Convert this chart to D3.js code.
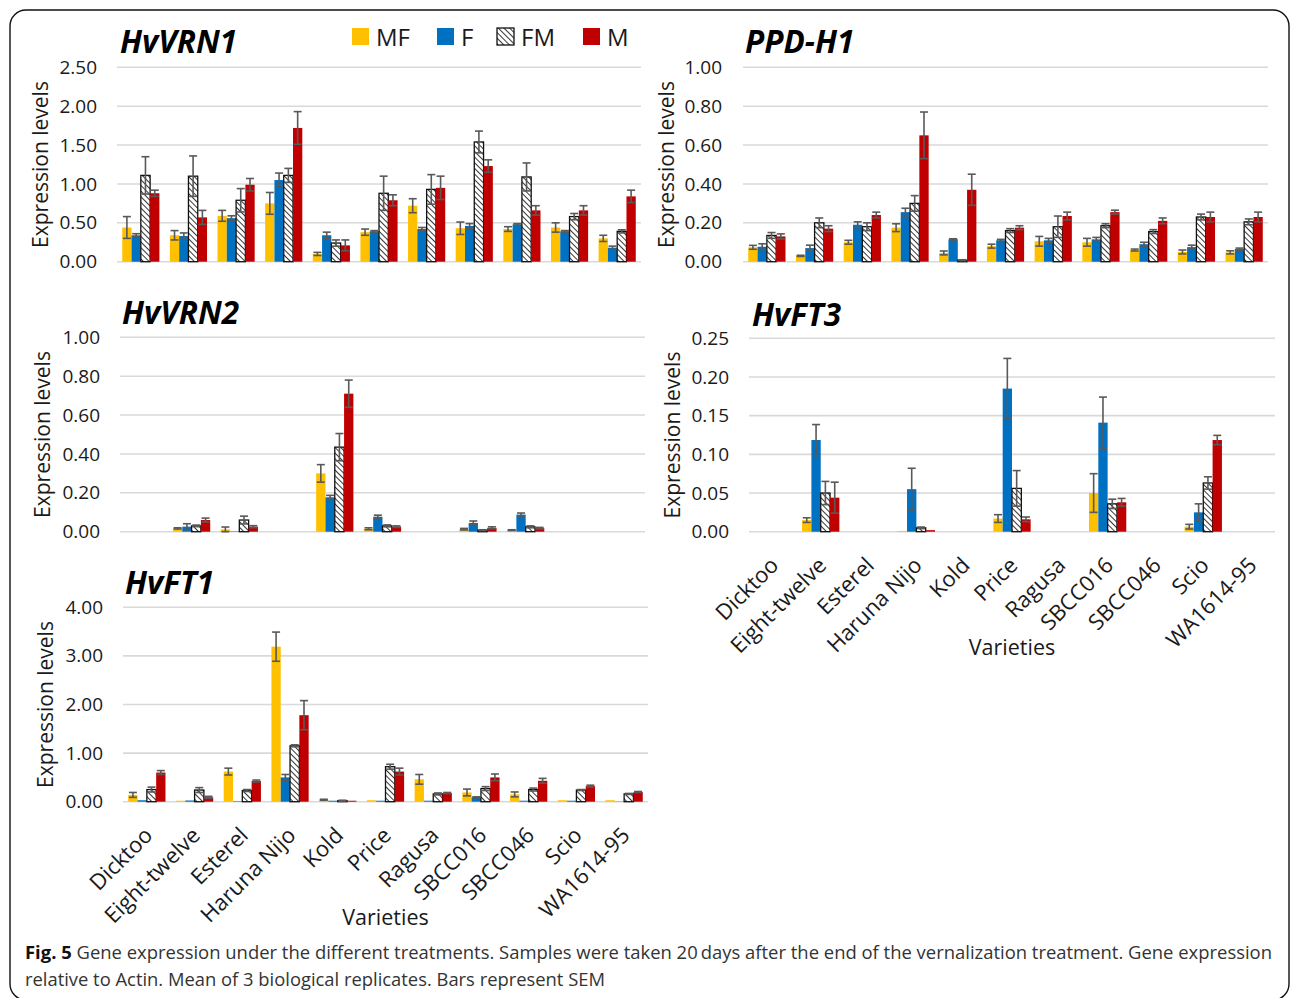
<!DOCTYPE html>
<html>
<head>
<meta charset="utf-8">
<script src="https://cdn.jsdelivr.net/npm/d3@7"></script>
<style>
  html, body { margin: 0; padding: 0; background: #fff; }
  svg { display: block; font-family: "Open Sans", "DejaVu Sans", sans-serif; }
</style>
</head>
<body>
<svg id="fig" width="1292" height="998"></svg>
<script>
// Varieties on the x axis and the four treatments
const varieties = ["Dicktoo", "Eight-twelve", "Esterel", "Haruna Nijo", "Kold", "Price",
  "Ragusa", "SBCC016", "SBCC046", "Scio", "WA1614-95"];
const treatments = ["MF", "F", "FM", "M"];
const treatmentColors = ["#FFC000", "#0070C0", "hatch", "#C00000"];

// Mean expression (rows: MF, F, FM, M) and SEM for each gene
const vrn1Mean = [
  [0.44, 0.34, 0.59, 0.75, 0.10, 0.38, 0.72, 0.43, 0.42, 0.44, 0.30],
  [0.34, 0.33, 0.56, 1.05, 0.34, 0.39, 0.42, 0.46, 0.48, 0.39, 0.18],
  [1.11, 1.10, 0.79, 1.11, 0.24, 0.88, 0.93, 1.54, 1.09, 0.58, 0.39],
  [0.88, 0.57, 0.99, 1.72, 0.21, 0.79, 0.95, 1.23, 0.66, 0.66, 0.84]
];
const vrn1Sem = [
  [0.14, 0.06, 0.07, 0.14, 0.02, 0.04, 0.09, 0.08, 0.03, 0.06, 0.04],
  [0.02, 0.04, 0.03, 0.09, 0.04, 0.01, 0.02, 0.03, 0.01, 0.01, 0.02],
  [0.24, 0.26, 0.15, 0.09, 0.04, 0.22, 0.19, 0.14, 0.18, 0.04, 0.02],
  [0.04, 0.09, 0.08, 0.21, 0.07, 0.07, 0.15, 0.08, 0.06, 0.06, 0.08]
];

const ppdMean = [
  [0.074, 0.03, 0.10, 0.175, 0.045, 0.08, 0.105, 0.10, 0.06, 0.05, 0.048],
  [0.077, 0.07, 0.19, 0.255, 0.115, 0.11, 0.11, 0.115, 0.09, 0.075, 0.065],
  [0.135, 0.20, 0.18, 0.30, 0.008, 0.16, 0.18, 0.185, 0.155, 0.23, 0.205],
  [0.13, 0.17, 0.24, 0.65, 0.37, 0.175, 0.235, 0.255, 0.21, 0.23, 0.23]
];
const ppdSem = [
  [0.01, 0.003, 0.01, 0.02, 0.01, 0.01, 0.025, 0.02, 0.005, 0.01, 0.008],
  [0.015, 0.015, 0.015, 0.02, 0.003, 0.005, 0.01, 0.01, 0.01, 0.01, 0.005],
  [0.015, 0.025, 0.02, 0.04, 0.002, 0.01, 0.055, 0.01, 0.01, 0.015, 0.015],
  [0.013, 0.015, 0.015, 0.12, 0.08, 0.01, 0.02, 0.01, 0.015, 0.025, 0.025]
];

const vrn2Mean = [
  [0, 0.017, 0.012, 0, 0.30, 0.015, 0, 0.013, 0.008, 0, 0],
  [0, 0.026, 0.002, 0, 0.177, 0.077, 0, 0.045, 0.088, 0, 0],
  [0, 0.03, 0.06, 0, 0.435, 0.03, 0, 0.008, 0.025, 0, 0],
  [0, 0.06, 0.026, 0, 0.71, 0.026, 0, 0.02, 0.018, 0, 0]
];
const vrn2Sem = [
  [0, 0.003, 0.012, 0, 0.045, 0.005, 0, 0.004, 0.002, 0, 0],
  [0, 0.015, 0, 0, 0.01, 0.008, 0, 0.01, 0.008, 0, 0],
  [0, 0.004, 0.02, 0, 0.07, 0.005, 0, 0.002, 0.005, 0, 0],
  [0, 0.01, 0.005, 0, 0.07, 0.004, 0, 0.005, 0.004, 0, 0]
];

const ft3Mean = [
  [0, 0.015, 0, 0.001, 0, 0.017, 0, 0.05, 0, 0.0065, 0],
  [0, 0.1185, 0, 0.055, 0, 0.185, 0, 0.141, 0, 0.025, 0],
  [0, 0.05, 0, 0.005, 0, 0.056, 0, 0.036, 0, 0.063, 0],
  [0, 0.044, 0, 0.002, 0, 0.016, 0, 0.038, 0, 0.1185, 0]
];
const ft3Sem = [
  [0, 0.003, 0, 0, 0, 0.005, 0, 0.025, 0, 0.003, 0],
  [0, 0.02, 0, 0.027, 0, 0.039, 0, 0.033, 0, 0.011, 0],
  [0, 0.015, 0, 0.001, 0, 0.023, 0, 0.006, 0, 0.008, 0],
  [0, 0.02, 0, 0, 0, 0.003, 0, 0.005, 0, 0.006, 0]
];

const ft1Mean = [
  [0.14, 0.02, 0.62, 3.19, 0.04, 0.03, 0.46, 0.19, 0.15, 0.03, 0.03],
  [0.03, 0.025, 0.01, 0.50, 0.02, 0.02, 0.02, 0.09, 0.02, 0.02, 0.005],
  [0.25, 0.24, 0.23, 1.15, 0.02, 0.72, 0.16, 0.27, 0.25, 0.24, 0.16],
  [0.60, 0.09, 0.425, 1.78, 0.02, 0.62, 0.18, 0.50, 0.43, 0.32, 0.20]
];
const ft1Sem = [
  [0.05, 0, 0.07, 0.30, 0.01, 0, 0.10, 0.07, 0.05, 0, 0],
  [0, 0, 0, 0.06, 0, 0, 0, 0.01, 0, 0, 0],
  [0.05, 0.05, 0.02, 0.02, 0.01, 0.05, 0.02, 0.04, 0.03, 0.01, 0.01],
  [0.04, 0.02, 0.02, 0.30, 0, 0.07, 0.01, 0.07, 0.05, 0.02, 0.01]
];

const caption1 = "Gene expression under the different treatments. Samples were taken 20\u2009days after the end of the vernalization treatment. Gene expression";
const caption2 = "relative to Actin. Mean of 3 biological replicates. Bars represent SEM";

// Panel placement on the page
const panels = [
  { gene: "HvVRN1", mean: vrn1Mean, sem: vrn1Sem, yMax: 2.5, yStep: 0.5,
    left: 117, right: 641, top: 67.3, bottom: 261.7, titleX: 120, titleY: 53, yTitleX: 48, labelX: 97, xLabels: false },
  { gene: "PPD-H1", mean: ppdMean, sem: ppdSem, yMax: 1.0, yStep: 0.2,
    left: 743, right: 1268, top: 67.3, bottom: 261.7, titleX: 745, titleY: 53, yTitleX: 674, labelX: 722, xLabels: false },
  { gene: "HvVRN2", mean: vrn2Mean, sem: vrn2Sem, yMax: 1.0, yStep: 0.2,
    left: 120, right: 645, top: 337.3, bottom: 531.7, titleX: 122, titleY: 324, yTitleX: 50, labelX: 100, xLabels: false },
  { gene: "HvFT3", mean: ft3Mean, sem: ft3Sem, yMax: 0.25, yStep: 0.05,
    left: 749, right: 1275, top: 338.3, bottom: 531.7, titleX: 752, titleY: 326, yTitleX: 680, labelX: 729, xLabels: true, xTitleY: 655 },
  { gene: "HvFT1", mean: ft1Mean, sem: ft1Sem, yMax: 4.0, yStep: 1.0,
    left: 123, right: 648, top: 607.3, bottom: 801.7, titleX: 125, titleY: 594, yTitleX: 53, labelX: 103, xLabels: true, xTitleY: 925 }
];

const svg = d3.select("#fig");
const textColor = "#1a1a1a";
const gridColor = "#d9d9d9";
const errColor = "#595959";

// Diagonal hatch used for the FM treatment
const defs = svg.append("defs");
const pat = defs.append("pattern")
  .attr("id", "hatch").attr("patternUnits", "userSpaceOnUse")
  .attr("width", 4).attr("height", 4)
  .attr("patternTransform", "rotate(-45)");
pat.append("rect").attr("width", 4).attr("height", 4).attr("fill", "#fff");
pat.append("line").attr("x1", 0).attr("y1", 0).attr("x2", 0).attr("y2", 4)
  .attr("stroke", "#111").attr("stroke-width", 1.7);

const fillFor = i => treatmentColors[i] === "hatch" ? "url(#hatch)" : treatmentColors[i];

// Rounded frame around the figure
svg.append("rect")
  .attr("x", 10).attr("y", 10).attr("width", 1279).attr("height", 990)
  .attr("rx", 16).attr("fill", "none").attr("stroke", "#111").attr("stroke-width", 1.4);

panels.forEach(p => {
  const g = svg.append("g");
  const x0 = d3.scaleBand().domain(varieties).range([p.left, p.right])
    .paddingInner(0.22).paddingOuter(0.11);
  const x1 = d3.scaleBand().domain(d3.range(treatments.length)).range([0, x0.bandwidth()]);
  const y = d3.scaleLinear().domain([0, p.yMax]).range([p.bottom, p.top]);
  const ticks = d3.range(0, p.yMax + p.yStep / 2, p.yStep);

  // Gridlines
  g.selectAll("line.grid").data(ticks).join("line")
    .attr("class", "grid")
    .attr("x1", p.left).attr("x2", p.right)
    .attr("y1", d => y(d)).attr("y2", d => y(d))
    .attr("stroke", gridColor).attr("stroke-width", 1.6);

  // Y axis labels
  const yAxis = d3.axisLeft(y).tickValues(ticks).tickFormat(d3.format(".2f")).tickSize(0).tickPadding(0);
  const ya = g.append("g").attr("transform", `translate(${p.labelX},0)`).call(yAxis);
  ya.select(".domain").remove();
  ya.selectAll("text").attr("font-size", 19).attr("fill", textColor)
    .attr("font-family", "'Open Sans', sans-serif");

  // Y axis title
  g.append("text")
    .attr("transform", `translate(${p.yTitleX},${(p.top + p.bottom) / 2}) rotate(-90)`)
    .attr("text-anchor", "middle").attr("font-size", 21).attr("fill", textColor)
    .text("Expression levels");

  // Gene title
  g.append("text")
    .attr("x", p.titleX).attr("y", p.titleY)
    .attr("font-size", 31.5).attr("font-weight", 700).attr("font-style", "italic")
    .attr("fill", "#000").text(p.gene);

  // Bars
  const cells = [];
  p.mean.forEach((row, si) => row.forEach((v, vi) => {
    cells.push({ s: si, v: varieties[vi], value: v, sem: p.sem[si][vi] });
  }));
  const bw = x1.bandwidth();
  g.selectAll("rect.bar").data(cells.filter(d => d.value > 0)).join("rect")
    .attr("class", "bar")
    .attr("x", d => x0(d.v) + x1(d.s))
    .attr("width", bw)
    .attr("y", d => y(d.value))
    .attr("height", d => y(0) - y(d.value))
    .attr("fill", d => fillFor(d.s))
    .attr("stroke", d => treatmentColors[d.s] === "hatch" ? "#111" : "none")
    .attr("stroke-width", 1.3);

  // Error bars (mean ± SEM)
  const eb = g.selectAll("g.err").data(cells.filter(d => d.sem > 0)).join("g")
    .attr("class", "err")
    .attr("stroke", errColor).attr("stroke-width", 1.6);
  const cx = d => x0(d.v) + x1(d.s) + bw / 2;
  eb.append("line")
    .attr("x1", cx).attr("x2", cx)
    .attr("y1", d => y(d.value + d.sem)).attr("y2", d => y(Math.max(0, d.value - d.sem)));
  eb.append("line")
    .attr("x1", d => cx(d) - 4).attr("x2", d => cx(d) + 4)
    .attr("y1", d => y(d.value + d.sem)).attr("y2", d => y(d.value + d.sem));
  eb.append("line")
    .attr("x1", d => cx(d) - 4).attr("x2", d => cx(d) + 4)
    .attr("y1", d => y(Math.max(0, d.value - d.sem))).attr("y2", d => y(Math.max(0, d.value - d.sem)));

  // Rotated variety names and x axis title
  if (p.xLabels) {
    g.selectAll("text.xl").data(varieties).join("text")
      .attr("class", "xl")
      .attr("text-anchor", "end")
      .attr("font-size", 22).attr("fill", textColor)
      .attr("transform", d => `translate(${x0(d) + x0.bandwidth() / 2 + 7},${p.bottom + 35}) rotate(-45)`)
      .text(d => d);
    g.append("text")
      .attr("x", (p.left + p.right) / 2).attr("y", p.xTitleY)
      .attr("text-anchor", "middle").attr("font-size", 21.5).attr("fill", textColor)
      .text("Varieties");
  }
});

// Legend
const legendX = [352, 437, 497, 583];
const lg = svg.append("g");
treatments.forEach((t, i) => {
  lg.append("rect")
    .attr("x", legendX[i]).attr("y", 28).attr("width", 17).attr("height", 17)
    .attr("fill", fillFor(i))
    .attr("stroke", treatmentColors[i] === "hatch" ? "#111" : "none").attr("stroke-width", 1.3);
  lg.append("text")
    .attr("x", legendX[i] + 24).attr("y", 45.5)
    .attr("font-size", 24).attr("fill", textColor).text(t);
});

// Caption
const cap = svg.append("g").attr("fill", "#333").attr("font-size", 18.5);
const c1 = cap.append("text").attr("x", 25).attr("y", 959)
  .attr("textLength", 1247).attr("lengthAdjust", "spacingAndGlyphs");
c1.append("tspan").attr("font-weight", 700).attr("fill", "#111").text("Fig. 5");
c1.append("tspan").text(" " + caption1);
cap.append("text").attr("x", 25).attr("y", 986)
  .attr("textLength", 580).attr("lengthAdjust", "spacingAndGlyphs")
  .text(caption2);
</script>
</body>
</html>
